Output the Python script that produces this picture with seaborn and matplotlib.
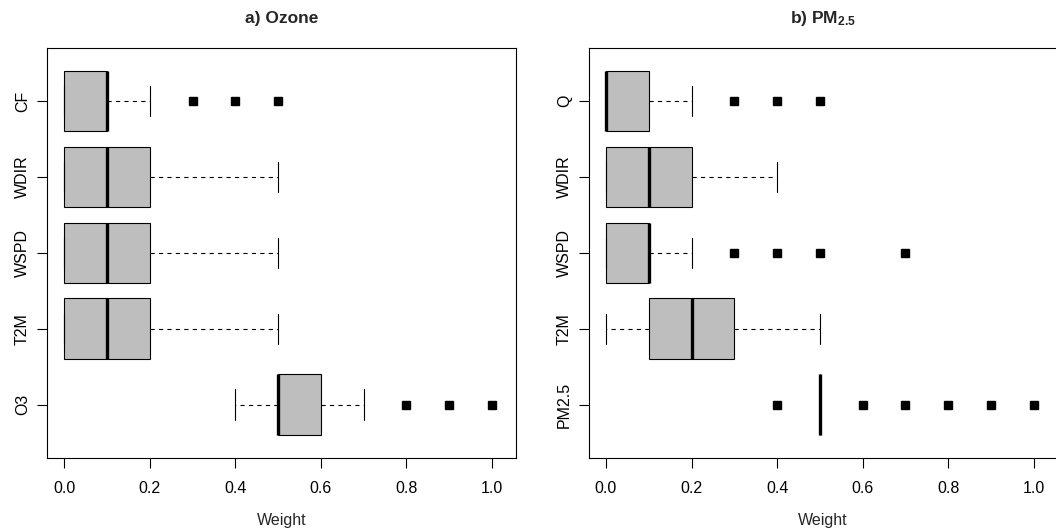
import matplotlib
matplotlib.use("Agg")
import matplotlib.pyplot as plt
import seaborn as sns
import pandas as pd

# ---------------- data (weights) ----------------
ozone_vars = ["CF", "WDIR", "WSPD", "T2M", "O3"]
ozone_CF   = [0.0, 0.0, 0.0, 0.0, 0.0, 0.0, 0.1, 0.1, 0.1, 0.1, 0.1, 0.1, 0.1, 0.1, 0.1, 0.1, 0.2, 0.2, 0.3, 0.4, 0.5]
ozone_WDIR = [0.0, 0.0, 0.0, 0.0, 0.0, 0.0, 0.1, 0.1, 0.1, 0.1, 0.1, 0.2, 0.2, 0.2, 0.2, 0.2, 0.3, 0.3, 0.4, 0.4, 0.5]
ozone_WSPD = [0.0, 0.0, 0.0, 0.0, 0.0, 0.0, 0.1, 0.1, 0.1, 0.1, 0.1, 0.2, 0.2, 0.2, 0.2, 0.2, 0.3, 0.3, 0.4, 0.4, 0.5]
ozone_T2M  = [0.0, 0.0, 0.0, 0.0, 0.0, 0.0, 0.1, 0.1, 0.1, 0.1, 0.1, 0.2, 0.2, 0.2, 0.2, 0.2, 0.3, 0.3, 0.4, 0.4, 0.5]
ozone_O3   = [0.4, 0.4, 0.5, 0.5, 0.5, 0.5, 0.5, 0.5, 0.5, 0.5, 0.5, 0.6, 0.6, 0.6, 0.6, 0.6, 0.7, 0.7, 0.8, 0.9, 1.0]

pm_vars  = ["Q", "WDIR", "WSPD", "T2M", "PM2.5"]
pm_Q     = [0.0, 0.0, 0.0, 0.0, 0.0, 0.0, 0.0, 0.0, 0.0, 0.0, 0.0, 0.1, 0.1, 0.1, 0.1, 0.1, 0.2, 0.2, 0.3, 0.4, 0.5]
pm_WDIR  = [0.0, 0.0, 0.0, 0.0, 0.0, 0.0, 0.1, 0.1, 0.1, 0.1, 0.1, 0.2, 0.2, 0.2, 0.2, 0.2, 0.3, 0.3, 0.3, 0.4, 0.4]
pm_WSPD  = [0.0, 0.0, 0.0, 0.0, 0.0, 0.0, 0.1, 0.1, 0.1, 0.1, 0.1, 0.1, 0.1, 0.1, 0.1, 0.1, 0.2, 0.3, 0.4, 0.5, 0.7]
pm_T2M   = [0.0, 0.1, 0.1, 0.1, 0.1, 0.1, 0.2, 0.2, 0.2, 0.2, 0.2, 0.3, 0.3, 0.3, 0.3, 0.3, 0.4, 0.4, 0.4, 0.5, 0.5]
pm_PM25  = [0.4, 0.5, 0.5, 0.5, 0.5, 0.5, 0.5, 0.5, 0.5, 0.5, 0.5, 0.5, 0.5, 0.5, 0.5, 0.5, 0.6, 0.7, 0.8, 0.9, 1.0]

x_ticks = [0.0, 0.2, 0.4, 0.6, 0.8, 1.0]
x_tick_labels = ["0.0", "0.2", "0.4", "0.6", "0.8", "1.0"]


def long_frame(names, series):
    rows = []
    for name, vals in zip(names, series):
        for v in vals:
            rows.append({"var": name, "weight": v})
    return pd.DataFrame(rows)


df_oz = long_frame(ozone_vars, [ozone_CF, ozone_WDIR, ozone_WSPD, ozone_T2M, ozone_O3])
df_pm = long_frame(pm_vars, [pm_Q, pm_WDIR, pm_WSPD, pm_T2M, pm_PM25])

# ---------------- style ----------------
sns.set_style("ticks")
plt.rcParams["font.family"] = ["Liberation Sans", "DejaVu Sans"]
plt.rcParams["mathtext.fontset"] = "custom"
plt.rcParams["mathtext.rm"] = "Liberation Sans"
plt.rcParams["mathtext.bf"] = "Liberation Sans:bold"
plt.rcParams["mathtext.it"] = "Liberation Sans:italic"

fig = plt.figure(figsize=(10.56, 5.30), dpi=100)
ax1 = fig.add_axes([47 / 1056, 1 - 457.7 / 530, 469 / 1056, 409.7 / 530])
ax2 = fig.add_axes([588.7 / 1056, 1 - 457.7 / 530, 469 / 1056, 409.7 / 530])

LW = 0.8
FS = 11.5
box_kws = dict(
    orient="h", width=0.8, color="#BEBEBE", saturation=1, linecolor="black",
    linewidth=LW, fliersize=5.6, whis=1.5,
    boxprops=dict(edgecolor="black", linewidth=LW),
    medianprops=dict(color="black", linewidth=2.4, solid_capstyle="butt"),
    whiskerprops=dict(color="black", linewidth=LW, linestyle=(0, (3.8, 3.8))),
    capprops=dict(color="black", linewidth=LW),
    flierprops=dict(marker="s", markerfacecolor="black", markeredgecolor="black",
                    markersize=5.6),
)

for ax, df, order, title in [
    (ax1, df_oz, ozone_vars, "a) Ozone"),
    (ax2, df_pm, pm_vars, r"b) PM$_{\mathbf{2.5}}$"),
]:
    sns.boxplot(data=df, x="weight", y="var", order=order, ax=ax, **box_kws)
    ax.set_xlim(-0.0404, 1.056)
    ax.set_ylim(4.7, -0.7)
    ax.set_xticks(x_ticks)
    ax.set_xticklabels(x_tick_labels)
    ax.set_yticks(range(len(order)))
    ax.set_yticklabels(order, rotation=90, va="center")
    ax.tick_params(axis="both", which="major", direction="out", length=7.2,
                   width=LW, color="black", labelsize=FS, labelcolor="black",
                   bottom=True, left=True, top=False, right=False)
    ax.tick_params(axis="x", pad=9.5)
    ax.tick_params(axis="y", pad=5)
    for s in ax.spines.values():
        s.set_visible(True)
        s.set_color("black")
        s.set_linewidth(LW)
    ax.set_xlabel("Weight", fontsize=FS, labelpad=12)
    ax.set_ylabel("")
    ax.set_title(title, fontsize=12.5, fontweight="bold", pad=18)

fig.savefig("out.png", dpi=100)
